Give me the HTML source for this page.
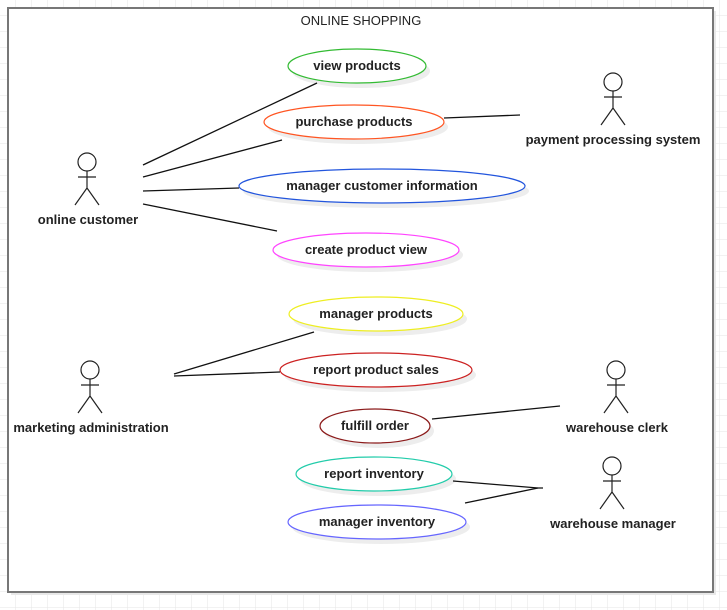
<!DOCTYPE html>
<html><head><style>
html,body{margin:0;padding:0;background:#fff;}
svg{display:block;}
text{font-family:"Liberation Sans",sans-serif;font-size:13px;fill:#222;}
.b{font-weight:bold;}
</style></head><body>
<svg width="727" height="610" viewBox="0 0 727 610" xmlns="http://www.w3.org/2000/svg">
<defs>
<pattern id="g" width="16" height="16" patternUnits="userSpaceOnUse" x="0" y="0">
<path d="M16 0V16M0 16H16" fill="none" stroke="#e6e6e6" stroke-width="1"/>
</pattern>
</defs>
<rect width="727" height="610" fill="#fff"/>
<rect width="727" height="610" fill="url(#g)"/>
<rect x="11" y="11" width="705" height="584" fill="#e8e8e8"/>
<rect x="8" y="8" width="705" height="584" fill="#fff" stroke="#777" stroke-width="2"/>
<text x="361" y="25" text-anchor="middle">ONLINE SHOPPING</text>

<g fill="#ededed">
<ellipse cx="361" cy="71" rx="69" ry="17"/>
<ellipse cx="358" cy="127" rx="90" ry="17"/>
<ellipse cx="386" cy="191" rx="143" ry="17"/>
<ellipse cx="370" cy="255" rx="93" ry="17"/>
<ellipse cx="380" cy="319" rx="87" ry="17"/>
<ellipse cx="380" cy="375" rx="96" ry="17"/>
<ellipse cx="379" cy="431" rx="55" ry="17"/>
<ellipse cx="378" cy="479" rx="78" ry="17"/>
<ellipse cx="381" cy="527" rx="89" ry="17"/>
</g>
<g fill="#fff" stroke-width="1.2">
<ellipse cx="357" cy="66" rx="69" ry="17" stroke="#33bb33"/>
<ellipse cx="354" cy="122" rx="90" ry="17" stroke="#ff5522"/>
<ellipse cx="382" cy="186" rx="143" ry="17" stroke="#2255dd"/>
<ellipse cx="366" cy="250" rx="93" ry="17" stroke="#ff44ff"/>
<ellipse cx="376" cy="314" rx="87" ry="17" stroke="#eeee22"/>
<ellipse cx="376" cy="370" rx="96" ry="17" stroke="#cc2222"/>
<ellipse cx="375" cy="426" rx="55" ry="17" stroke="#8b1a1a"/>
<ellipse cx="374" cy="474" rx="78" ry="17" stroke="#22ccaa"/>
<ellipse cx="377" cy="522" rx="89" ry="17" stroke="#6666ff"/>
</g>
<g class="b" text-anchor="middle">
<text class="b" x="357" y="70">view products</text>
<text class="b" x="354" y="126">purchase products</text>
<text class="b" x="382" y="190">manager customer information</text>
<text class="b" x="366" y="254">create product view</text>
<text class="b" x="376" y="318">manager products</text>
<text class="b" x="376" y="374">report product sales</text>
<text class="b" x="375" y="430">fulfill order</text>
<text class="b" x="374" y="478">report inventory</text>
<text class="b" x="377" y="526">manager inventory</text>
</g>

<g stroke="#111" stroke-width="1.3" fill="none">
<line x1="143" y1="165" x2="317" y2="83"/>
<line x1="143" y1="177" x2="282" y2="140"/>
<line x1="143" y1="191" x2="239" y2="188"/>
<line x1="143" y1="204" x2="277" y2="231"/>
<line x1="444" y1="118" x2="520" y2="115"/>
<line x1="174" y1="374" x2="314" y2="332"/>
<line x1="174" y1="376" x2="280" y2="372"/>
<line x1="432" y1="419" x2="560" y2="406"/>
<polyline points="453,481 538,488 543,488"/>
<line x1="465" y1="503" x2="538" y2="488"/>
</g>

<g stroke="#222" stroke-width="1.2" fill="#fff">
<g transform="translate(87,162)"><circle r="9" cy="0"/><path d="M0 9V26M-9 15H9M0 26L-12 43M0 26L12 43" fill="none"/></g>
<g transform="translate(90,370)"><circle r="9"/><path d="M0 9V26M-9 15H9M0 26L-12 43M0 26L12 43" fill="none"/></g>
<g transform="translate(613,82)"><circle r="9"/><path d="M0 9V26M-9 15H9M0 26L-12 43M0 26L12 43" fill="none"/></g>
<g transform="translate(616,370)"><circle r="9"/><path d="M0 9V26M-9 15H9M0 26L-12 43M0 26L12 43" fill="none"/></g>
<g transform="translate(612,466)"><circle r="9"/><path d="M0 9V26M-9 15H9M0 26L-12 43M0 26L12 43" fill="none"/></g>
</g>
<g text-anchor="middle">
<text class="b" x="88" y="224">online customer</text>
<text class="b" x="91" y="432">marketing administration</text>
<text class="b" x="613" y="144">payment processing system</text>
<text class="b" x="617" y="432">warehouse clerk</text>
<text class="b" x="613" y="528">warehouse manager</text>
</g>
</svg>
</body></html>
